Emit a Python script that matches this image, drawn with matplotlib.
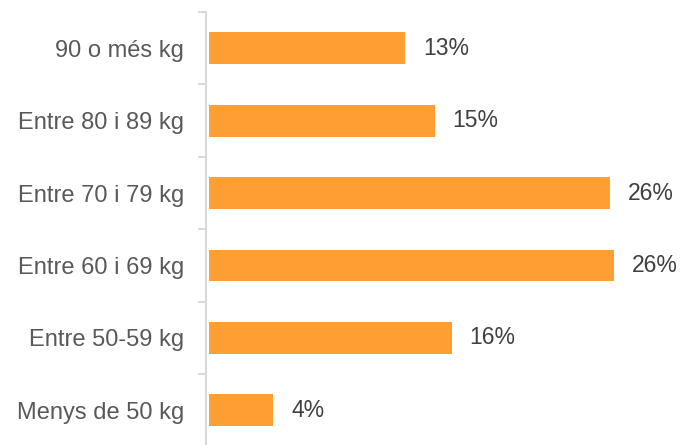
import matplotlib.pyplot as plt

plt.rcParams['font.family'] = ['Liberation Sans', 'DejaVu Sans']

categories = ['90 o més kg', 'Entre 80 i 89 kg', 'Entre 70 i 79 kg',
              'Entre 60 i 69 kg', 'Entre 50-59 kg', 'Menys de 50 kg']
values = [12.8, 14.7, 26.1, 26.4, 15.8, 4.2]
labels = ['13%', '15%', '26%', '26%', '16%', '4%']

W, H = 683, 445
fig = plt.figure(figsize=(W / 100, H / 100), dpi=100)
ax = fig.add_axes([209 / W, -1.5 / H, (W - 209) / W, (445 - 12 + 1.5) / H])

ypos = list(range(len(categories)))[::-1]
bars = ax.barh(ypos, values, height=0.44, color='#FF9E33', left=0)
ax.bar_label(bars, labels=labels, padding=13, fontsize=16.5, color='#404040')

ax.set_xlim(0, (W - 209) / 15.35)
ax.set_ylim(-0.5, 5.5)

for s in ['top', 'right', 'bottom']:
    ax.spines[s].set_visible(False)
ax.spines['left'].set_color('#D9D9D9')
ax.spines['left'].set_linewidth(1.5)
ax.spines['left'].set_position(('outward', 2))

ax.set_xticks([])
ax.set_yticks(ypos)
ax.set_yticklabels(categories, fontsize=17, color='#595959')
ax.tick_params(axis='y', which='major', length=0, pad=16)
ax.set_yticks([i - 0.5 for i in range(len(categories) + 1)], minor=True)
ax.tick_params(axis='y', which='minor', length=5.8, width=1.5, color='#D9D9D9')

fig.savefig('out.png', dpi=100)
